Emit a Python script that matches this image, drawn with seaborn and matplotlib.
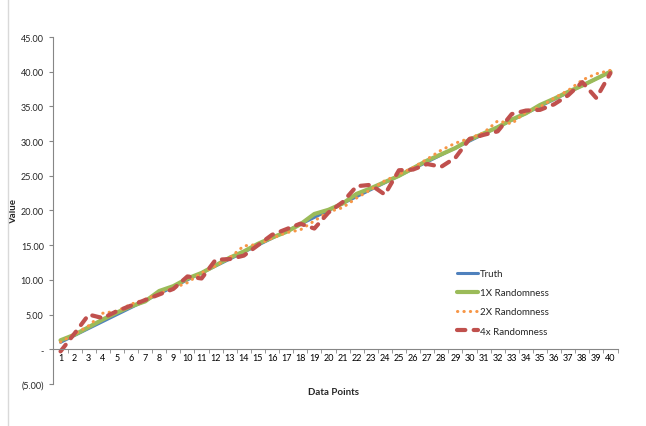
import matplotlib
matplotlib.use("Agg")
import matplotlib.pyplot as plt
from matplotlib.lines import Line2D
from matplotlib.ticker import FuncFormatter, MultipleLocator
import seaborn as sns

points = list(range(1, 41))
truth = [1.0, 2.0, 3.0, 4.0, 5.0, 6.0, 7.0, 8.0, 9.0, 10.0,
         11.0, 12.0, 13.0, 14.0, 15.0, 16.0, 17.0, 18.0, 19.0, 20.0,
         21.0, 22.0, 23.0, 24.0, 25.0, 26.0, 27.0, 28.0, 29.0, 30.0,
         31.0, 32.0, 33.0, 34.0, 35.0, 36.0, 37.0, 38.0, 39.0, 40.0]
rand_1x = [1.3, 2.1, 3.2, 4.3, 5.3, 6.2, 6.9, 8.4, 9.1, 10.2,
           11.0, 12.1, 13.2, 14.1, 15.2, 16.1, 16.9, 18.0, 19.5, 20.1,
           21.0, 22.4, 23.2, 24.1, 25.0, 26.1, 27.2, 28.1, 29.0, 30.2,
           31.1, 32.0, 33.1, 34.0, 35.2, 36.1, 37.1, 38.0, 39.0, 40.0]
rand_2x = [1.05, 2.2, 3.4, 5.2, 5.5, 6.5, 7.2, 8.0, 8.8, 9.6,
           11.0, 12.0, 13.2, 14.9, 15.1, 16.0, 16.8, 17.2, 18.5, 19.8,
           20.4, 21.8, 23.0, 24.3, 25.2, 26.2, 27.4, 28.7, 29.7, 30.4,
           31.2, 32.9, 32.5, 34.2, 34.9, 36.2, 37.3, 38.8, 39.7, 40.2]
rand_4x = [-0.3, 2.3, 5.0, 4.5, 5.5, 6.3, 7.1, 7.9, 8.7, 10.5,
           10.2, 12.9, 13.0, 13.5, 15.0, 16.5, 17.3, 18.1, 17.4, 19.7,
           21.2, 23.5, 23.7, 22.3, 25.8, 25.9, 26.7, 26.3, 27.6, 30.3,
           30.9, 31.4, 33.9, 34.4, 34.5, 35.3, 36.6, 38.5, 36.2, 39.8]

labels = ["Truth", "1X Randomness", "2X Randomness", "4x Randomness"]

sns.set_style("white")
plt.rcParams['font.family'] = ['Lato', 'DejaVu Sans']

fig = plt.figure(figsize=(6.46, 4.27), dpi=100)
ax = fig.add_axes([0.0828, 0.0984, 0.8731, 0.8126])

sns.lineplot(x=points, y=truth, ax=ax, color="#4F81BD", lw=2.2,
             solid_capstyle="round", label=labels[0])
sns.lineplot(x=points, y=rand_1x, ax=ax, color="#9BBB59", lw=3.0,
             solid_capstyle="round", label=labels[1])
sns.lineplot(x=points, y=rand_2x, ax=ax, color="#F79646", lw=2.2,
             linestyle=(0, (0.1, 2.0)), dash_capstyle="round", label=labels[2])
sns.lineplot(x=points, y=rand_4x, ax=ax, color="#C0504D", lw=3.0,
             linestyle=(0, (2.0, 2.0)), dash_capstyle="round", label=labels[3])

ax.set_xlim(0.5, 40.5)
ax.set_ylim(-5, 45)
ax.yaxis.set_major_locator(MultipleLocator(5))


def money(v, pos):
    if abs(v) < 1e-9:
        return "-"
    if v < 0:
        return "({:.2f})".format(-v)
    return "{:.2f}".format(v)


ax.yaxis.set_major_formatter(FuncFormatter(money))
ax.set_xticks(points)
ax.set_xticklabels([str(p) for p in points])
ax.set_xticks([p + 0.5 for p in range(0, 41)], minor=True)

spine_col = "#868686"
for s in ["top", "right"]:
    ax.spines[s].set_visible(False)
ax.spines["bottom"].set_position(("data", 0))
ax.spines["bottom"].set_color(spine_col)
ax.spines["left"].set_color(spine_col)
ax.spines["bottom"].set_linewidth(0.8)
ax.spines["left"].set_linewidth(0.8)

ax.tick_params(axis="x", which="major", length=0, labelsize=6.5, pad=3, colors="#000000")
ax.tick_params(axis="x", which="minor", length=3, direction="out", color=spine_col, bottom=True)
ax.tick_params(axis="y", length=3, direction="out", color=spine_col, labelsize=6.5, left=True, pad=4)

ax.set_xlabel("Data Points", fontsize=7, fontweight="bold")
ax.set_ylabel("Value", fontsize=7, fontweight="bold")
ax.xaxis.set_label_coords(0.497, -0.01)
ax.yaxis.set_label_coords(-0.062, 0.5)

ax.legend(loc="upper left", bbox_to_anchor=(0.7155, 0.3315), frameon=False,
          fontsize=7, handlelength=2.2, handletextpad=0.15, labelspacing=1.05,
          borderpad=0, borderaxespad=0)

fig.add_artist(Line2D([8 / 646, 8 / 646], [0, 1], transform=fig.transFigure,
                      color="#d9d9d9", lw=1))

fig.savefig("out.png", dpi=100)
